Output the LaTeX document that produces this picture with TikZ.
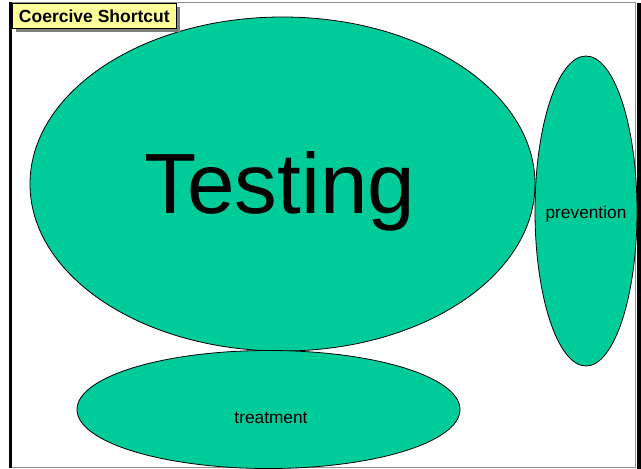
\documentclass[tikz,border=0pt]{standalone}
\usepackage{fontspec}
\setmainfont{Liberation Sans}
\usetikzlibrary{shapes.geometric}
\definecolor{blobgreen}{HTML}{00CC99}
\definecolor{notey}{HTML}{FFFF99}
\definecolor{framegray}{HTML}{909090}
\begin{document}
\begin{tikzpicture}[x=1pt,y=-1pt,
  blob/.style={ellipse,draw=black,line width=0.8pt,fill=blobgreen,inner sep=0pt},
  blobtext/.style={anchor=base,inner sep=0pt,text=black}]
\useasboundingbox (0,0) rectangle (641,469);
\fill[white] (0,0) rectangle (641,469);
% frame
\draw[framegray,line width=1pt] (10,2.5) rectangle (635.5,467.5);
\fill[black] (8.5,2) rectangle (11.5,468);
\fill[black] (637,3) rectangle (640.5,469);
% ellipses
\node[blob,minimum width=505pt,minimum height=334pt] (testing) at (282.5,184) {};
\node[blob,minimum width=383pt,minimum height=118pt] (treatment) at (268.5,409.5) {};
\node[blob,minimum width=102pt,minimum height=310pt] (prevention) at (586,211) {};
\node[blobtext,font=\fontsize{85.5}{85.5}\selectfont] (testingtxt) at (280,213) {Testing};
\node[blobtext,font=\fontsize{17.3}{17.3}\selectfont] (preventiontxt) at (586,218) {prevention};
\node[blobtext,font=\fontsize{17.3}{17.3}\selectfont] (treatmenttxt) at (271,423) {treatment};
% title box
\fill[gray] (16,7) rectangle (180,32);
\node[draw=black,line width=0.7pt,fill=notey,anchor=north west,minimum width=164pt,minimum height=25pt,inner sep=0pt,font=\bfseries\fontsize{17.5}{17.5}\selectfont] (title) at (12,3) {Coercive Shortcut};
\end{tikzpicture}
\end{document}
